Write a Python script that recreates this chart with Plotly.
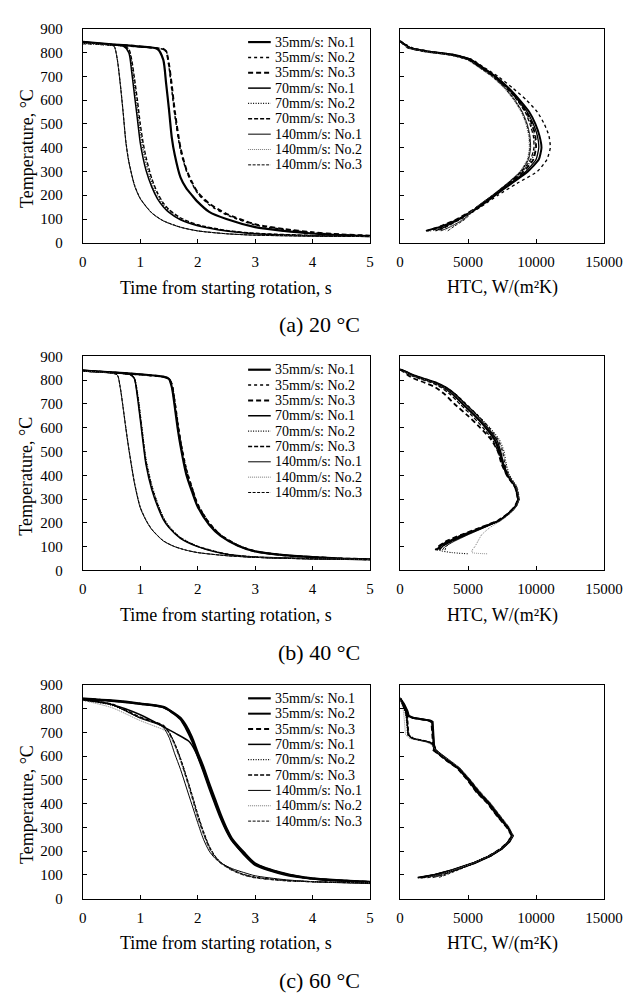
import plotly.graph_objects as go

W, H = 634, 993
FONT = "Liberation Serif, Times New Roman, serif"

# ---------------- (a) 20 °C : temperature vs time ----------------
t_a35 = [0, 0.5, 1.0, 1.3, 1.4, 1.45, 1.5, 1.55, 1.6, 1.7, 1.8, 1.9, 2.0, 2.2, 2.5, 3.0, 3.5, 4.0, 4.5, 5.0]
T_a35_1 = [845, 835, 825, 815, 770, 670, 560, 440, 370, 275, 230, 200, 172, 130, 100, 66, 50, 39, 32, 28]
T_a35_2 = [838, 832, 824, 818, 814, 808, 740, 640, 540, 390, 305, 250, 208, 160, 118, 75, 56, 42, 34, 29]
T_a35_3 = [843, 834, 826, 818, 815, 805, 750, 660, 555, 400, 310, 255, 212, 165, 122, 78, 58, 44, 35, 30]

t_a70 = [0, 0.4, 0.7, 0.8, 0.85, 0.9, 0.95, 1.0, 1.05, 1.1, 1.2, 1.3, 1.4, 1.5, 1.7, 2.0, 2.5, 3.0, 4.0, 5.0]
T_a70_1 = [845, 835, 828, 800, 720, 620, 520, 420, 355, 305, 235, 185, 152, 128, 97, 72, 50, 38, 30, 27]
T_a70_2 = [838, 832, 826, 810, 750, 660, 565, 465, 390, 335, 252, 198, 160, 134, 100, 74, 51, 39, 30, 27]
T_a70_3 = [843, 834, 828, 815, 770, 690, 600, 500, 420, 360, 270, 210, 168, 140, 105, 76, 52, 40, 31, 27]

t_a140 = [0, 0.3, 0.5, 0.55, 0.6, 0.65, 0.7, 0.75, 0.8, 0.9, 1.0, 1.2, 1.4, 1.7, 2.0, 2.5, 3.0, 4.0, 5.0]
T_a140_1 = [845, 838, 832, 825, 770, 670, 550, 420, 340, 240, 185, 125, 92, 65, 50, 38, 32, 28, 26]
T_a140_2 = [838, 834, 830, 822, 775, 680, 560, 430, 348, 245, 188, 127, 93, 66, 51, 38, 32, 28, 26]
T_a140_3 = [843, 836, 831, 824, 772, 675, 555, 425, 344, 243, 187, 126, 93, 66, 50, 38, 32, 28, 26]

# ---------------- (a) 20 °C : HTC vs temperature ----------------
Tq_a = [848, 835, 820, 805, 790, 770, 740, 700, 650, 600, 550, 500, 450, 400, 350, 300, 250, 200, 150, 100, 70, 50]
H_a35_1 = [0, 300, 700, 2000, 4000, 5200, 6000, 7000, 8000, 8800, 9500, 9950, 10250, 10400, 10200, 9400, 8200, 7000, 5800, 4300, 3100, 1900]
H_a35_2 = [0, 400, 900, 2200, 4100, 5300, 6100, 7200, 8300, 9300, 10100, 10600, 10950, 11050, 10800, 10100, 8600, 7200, 5900, 4500, 3300, 2200]
H_a35_3 = [0, 250, 600, 1800, 3800, 5100, 5900, 6900, 7900, 8700, 9300, 9700, 9950, 10000, 9800, 9100, 8000, 6900, 5700, 4200, 3000, 2000]
H_a70_1 = [0, 350, 800, 2100, 4000, 5200, 6000, 7000, 7950, 8700, 9350, 9800, 10100, 10200, 10000, 9250, 8100, 6950, 5750, 4400, 3400, 2600]
H_a70_2 = [0, 300, 750, 1900, 3900, 5150, 5950, 6950, 7900, 8650, 9250, 9650, 9900, 9950, 9700, 9000, 8000, 6900, 5700, 4300, 3200, 2300]
H_a70_3 = [0, 300, 700, 1900, 3900, 5100, 5900, 6900, 7850, 8600, 9200, 9550, 9800, 9850, 9600, 8950, 7950, 6850, 5650, 4400, 3500, 2800]
H_a140_1 = [0, 250, 650, 1800, 3700, 5000, 5800, 6800, 7750, 8450, 9000, 9350, 9550, 9600, 9450, 8900, 7900, 6800, 5600, 4700, 3800, 3000]
H_a140_2 = [0, 200, 600, 1700, 3600, 4900, 5700, 6700, 7650, 8350, 8900, 9250, 9450, 9500, 9350, 8800, 7850, 6750, 5600, 4600, 3700, 3300]
H_a140_3 = [0, 250, 650, 1750, 3650, 4950, 5750, 6750, 7700, 8400, 8950, 9300, 9500, 9550, 9400, 8850, 7900, 6800, 5650, 4800, 4000, 3500]

# ---------------- (b) 40 °C : temperature vs time ----------------
t_b35 = [0, 0.5, 1.0, 1.4, 1.5, 1.55, 1.6, 1.65, 1.7, 1.8, 1.9, 2.0, 2.2, 2.4, 2.7, 3.0, 3.5, 4.0, 4.5, 5.0]
T_b35_1 = [840, 833, 825, 815, 805, 770, 690, 600, 525, 405, 332, 268, 192, 145, 104, 80, 64, 56, 50, 47]
T_b35_2 = [838, 832, 824, 814, 806, 785, 715, 630, 550, 430, 350, 280, 200, 150, 106, 81, 65, 56, 50, 47]
T_b35_3 = [840, 833, 824, 814, 806, 780, 705, 615, 540, 420, 345, 275, 198, 148, 105, 80, 64, 56, 50, 47]

t_b70 = [0, 0.4, 0.8, 0.85, 0.9, 0.95, 1.0, 1.05, 1.1, 1.2, 1.3, 1.4, 1.5, 1.7, 2.0, 2.5, 3.0, 4.0, 5.0]
T_b70_1 = [842, 835, 826, 820, 805, 730, 635, 535, 445, 340, 270, 215, 180, 135, 100, 68, 56, 49, 46]
T_b70_2 = [838, 833, 825, 820, 808, 750, 660, 560, 468, 360, 285, 225, 186, 138, 102, 69, 56, 49, 46]
T_b70_3 = [840, 834, 826, 820, 806, 742, 648, 550, 457, 352, 278, 220, 183, 137, 101, 69, 56, 49, 46]

t_b140 = [0, 0.3, 0.5, 0.6, 0.65, 0.7, 0.75, 0.8, 0.9, 1.0, 1.1, 1.2, 1.4, 1.6, 1.8, 2.0, 2.5, 3.0, 4.0, 5.0]
T_b140_1 = [842, 836, 830, 822, 770, 685, 594, 510, 365, 263, 210, 172, 124, 100, 85, 75, 62, 55, 49, 46]
T_b140_2 = [838, 834, 829, 821, 775, 692, 602, 518, 372, 268, 213, 174, 125, 100, 85, 75, 62, 55, 49, 46]
T_b140_3 = [840, 835, 830, 822, 772, 688, 598, 514, 368, 266, 212, 173, 125, 100, 85, 75, 62, 55, 49, 46]

# ---------------- (b) 40 °C : HTC vs temperature ----------------
Tq_b = [845, 835, 820, 805, 790, 770, 740, 700, 650, 600, 550, 500, 450, 400, 350, 300, 270, 240, 210, 180, 150, 120, 100, 85]
H_b35_1 = [0, 400, 900, 1700, 2500, 3200, 3900, 4600, 5500, 6300, 6950, 7300, 7550, 7900, 8500, 8700, 8500, 8000, 7300, 6000, 4700, 3500, 2900, 2700]
H_b35_2 = [0, 450, 1000, 1800, 2600, 3350, 4100, 4850, 5750, 6550, 7200, 7550, 7700, 8000, 8550, 8750, 8550, 8050, 7300, 6000, 4600, 3400, 2900, 2800]
H_b35_3 = [0, 250, 600, 1100, 1800, 2600, 3300, 4000, 5000, 5900, 6700, 7200, 7450, 7850, 8450, 8650, 8450, 7950, 7200, 5900, 4500, 3300, 2800, 2600]
H_b70_1 = [0, 500, 1100, 1900, 2700, 3400, 4100, 4800, 5700, 6450, 7100, 7400, 7600, 7950, 8550, 8700, 8500, 8000, 7300, 6100, 4900, 3700, 3100, 2900]
H_b70_3 = [0, 350, 800, 1500, 2300, 3000, 3700, 4400, 5300, 6100, 6800, 7200, 7500, 7850, 8450, 8650, 8450, 7950, 7250, 6000, 4800, 3600, 3000, 2800]
H_b140_1 = [0, 450, 1000, 1800, 2600, 3300, 4000, 4700, 5600, 6400, 7000, 7350, 7600, 7950, 8500, 8700, 8500, 8000, 7350, 6200, 5000, 3900, 3300, 3100]
H_b140_3 = [0, 400, 900, 1700, 2500, 3200, 3900, 4600, 5500, 6300, 6950, 7300, 7550, 7900, 8450, 8650, 8450, 7950, 7300, 6100, 4900, 3800, 3400, 3300]
Tq_b_hook = [845, 835, 820, 805, 790, 770, 740, 700, 650, 600, 550, 500, 450, 400, 350, 300, 270, 240, 210, 180, 150, 120, 100, 85, 75, 70]
H_b70_2 = [0, 400, 950, 1750, 2550, 3300, 4050, 4800, 5750, 6600, 7300, 7650, 7800, 8050, 8600, 8750, 8550, 8050, 7350, 6100, 4800, 3700, 3100, 2900, 3800, 5000]
H_b140_2 = [0, 350, 850, 1650, 2450, 3200, 3950, 4700, 5650, 6500, 7200, 7550, 7750, 8000, 8550, 8750, 8550, 8100, 7450, 6600, 6000, 5700, 5500, 5300, 5300, 6400]

# ---------------- (c) 60 °C : temperature vs time ----------------
t_c35 = [0, 0.5, 1.0, 1.4, 1.55, 1.7, 1.8, 1.9, 2.0, 2.1, 2.2, 2.3, 2.4, 2.5, 2.6, 2.8, 3.0, 3.5, 4.0, 5.0]
T_c35_1 = [843, 835, 822, 808, 788, 762, 728, 680, 615, 555, 485, 420, 355, 298, 252, 196, 148, 106, 85, 70]
T_c35_2 = [840, 833, 820, 806, 785, 755, 715, 665, 600, 535, 465, 400, 338, 285, 243, 190, 145, 104, 84, 70]
T_c35_3 = [842, 834, 821, 807, 786, 758, 720, 672, 607, 545, 475, 410, 346, 291, 247, 193, 146, 105, 84, 70]

t_c70_1 = [0, 0.5, 1.0, 1.4, 1.6, 1.85, 1.95, 2.05, 2.15, 2.25, 2.35, 2.45, 2.6, 2.8, 3.0, 3.5, 4.0, 5.0]
T_c70_1 = [838, 818, 775, 725, 698, 662, 625, 570, 505, 440, 375, 315, 245, 185, 140, 100, 82, 68]

t_cmid = [0, 0.5, 1.0, 1.3, 1.4, 1.5, 1.6, 1.7, 1.8, 1.9, 2.0, 2.1, 2.2, 2.3, 2.4, 2.6, 2.8, 3.0, 3.5, 4.0, 5.0]
T_c70_2 = [836, 815, 762, 738, 728, 700, 652, 588, 515, 435, 352, 280, 220, 178, 152, 121, 101, 89, 76, 71, 66]
T_c70_3 = [838, 820, 765, 740, 730, 700, 650, 585, 510, 430, 345, 275, 215, 175, 150, 120, 100, 88, 76, 71, 66]
T_c140_1 = [840, 818, 760, 735, 722, 680, 610, 545, 470, 395, 320, 250, 200, 170, 150, 126, 110, 96, 80, 71, 63]
T_c140_2 = [835, 805, 750, 722, 712, 690, 645, 582, 508, 428, 343, 272, 213, 173, 148, 119, 100, 88, 76, 71, 66]
T_c140_3 = [838, 818, 763, 738, 728, 702, 655, 592, 518, 440, 357, 284, 222, 180, 153, 122, 102, 90, 77, 71, 66]

# ---------------- (c) 60 °C : HTC vs temperature ----------------
Tq_c35 = [845, 820, 790, 770, 762, 756, 750, 745, 700, 650, 625, 610, 580, 550, 500, 450, 400, 350, 300, 265, 240, 210, 180, 150, 120, 100, 88]
H_c35_1 = [0, 250, 500, 600, 900, 1600, 2200, 2350, 2400, 2450, 2500, 2850, 3500, 4250, 5000, 5650, 6500, 7150, 7900, 8300, 8050, 7500, 6650, 5500, 3900, 2600, 1500]
H_c35_2 = [0, 300, 550, 650, 1000, 1700, 2250, 2400, 2450, 2500, 2600, 2950, 3600, 4350, 5100, 5750, 6600, 7250, 7950, 8250, 8000, 7450, 6600, 5400, 3800, 2500, 1300]
H_c35_3 = [0, 200, 450, 550, 850, 1500, 2100, 2300, 2350, 2400, 2450, 2800, 3450, 4200, 4950, 5600, 6450, 7100, 7850, 8200, 7950, 7400, 6550, 5450, 4000, 2800, 1800]
Tq_cf = [845, 820, 790, 760, 720, 690, 675, 668, 660, 650, 640, 620, 600, 580, 550, 500, 450, 400, 350, 300, 265, 240, 210, 180, 150, 120, 100, 88]
H_c70_1 = [0, 200, 400, 500, 550, 600, 900, 1500, 2100, 2400, 2500, 2700, 3100, 3600, 4300, 5100, 5800, 6600, 7250, 7950, 8250, 8000, 7450, 6600, 5400, 3800, 2500, 1300]
H_c70_2 = [0, 150, 350, 450, 500, 550, 800, 1400, 2000, 2350, 2450, 2650, 3050, 3550, 4250, 5050, 5750, 6550, 7200, 7900, 8200, 7950, 7400, 6550, 5350, 3900, 2700, 1600]
H_c70_3 = [0, 250, 450, 550, 600, 650, 1000, 1600, 2200, 2450, 2550, 2750, 3150, 3650, 4350, 5150, 5850, 6650, 7300, 8000, 8300, 8050, 7500, 6700, 5500, 4100, 3000, 2000]
H_c140_1 = [0, 200, 400, 500, 520, 580, 850, 1450, 2050, 2400, 2500, 2700, 3100, 3600, 4300, 5100, 5800, 6550, 7200, 7900, 8200, 7950, 7400, 6600, 5500, 4200, 3200, 2400]
H_c140_2 = [0, 100, 250, 300, 350, 400, 700, 1300, 1900, 2300, 2450, 2700, 3150, 3700, 4400, 5200, 5900, 6700, 7350, 8050, 8300, 8000, 7450, 6600, 5450, 4000, 2900, 1900]
H_c140_3 = [0, 200, 400, 480, 530, 600, 900, 1500, 2100, 2400, 2500, 2700, 3100, 3600, 4300, 5100, 5800, 6600, 7250, 7950, 8250, 8000, 7450, 6650, 5550, 4300, 3400, 2800]

series_keys = ["35_1", "35_2", "35_3", "70_1", "70_2", "70_3", "140_1", "140_2", "140_3"]
series_names = ["35mm/s: No.1", "35mm/s: No.2", "35mm/s: No.3",
                "70mm/s: No.1", "70mm/s: No.2", "70mm/s: No.3",
                "140mm/s: No.1", "140mm/s: No.2", "140mm/s: No.3"]
captions = ["(a) 20 °C", "(b) 40 °C", "(c) 60 °C"]

temp_time = [
    {"35_1": (t_a35, T_a35_1), "35_2": (t_a35, T_a35_2), "35_3": (t_a35, T_a35_3),
     "70_1": (t_a70, T_a70_1), "70_2": (t_a70, T_a70_2), "70_3": (t_a70, T_a70_3),
     "140_1": (t_a140, T_a140_1), "140_2": (t_a140, T_a140_2), "140_3": (t_a140, T_a140_3)},
    {"35_1": (t_b35, T_b35_1), "35_2": (t_b35, T_b35_2), "35_3": (t_b35, T_b35_3),
     "70_1": (t_b70, T_b70_1), "70_2": (t_b70, T_b70_2), "70_3": (t_b70, T_b70_3),
     "140_1": (t_b140, T_b140_1), "140_2": (t_b140, T_b140_2), "140_3": (t_b140, T_b140_3)},
    {"35_1": (t_c35, T_c35_1), "35_2": (t_c35, T_c35_2), "35_3": (t_c35, T_c35_3),
     "70_1": (t_c70_1, T_c70_1), "70_2": (t_cmid, T_c70_2), "70_3": (t_cmid, T_c70_3),
     "140_1": (t_cmid, T_c140_1), "140_2": (t_cmid, T_c140_2), "140_3": (t_cmid, T_c140_3)},
]
htc = [
    {"35_1": (H_a35_1, Tq_a), "35_2": (H_a35_2, Tq_a), "35_3": (H_a35_3, Tq_a),
     "70_1": (H_a70_1, Tq_a), "70_2": (H_a70_2, Tq_a), "70_3": (H_a70_3, Tq_a),
     "140_1": (H_a140_1, Tq_a), "140_2": (H_a140_2, Tq_a), "140_3": (H_a140_3, Tq_a)},
    {"35_1": (H_b35_1, Tq_b), "35_2": (H_b35_2, Tq_b), "35_3": (H_b35_3, Tq_b),
     "70_1": (H_b70_1, Tq_b), "70_2": (H_b70_2, Tq_b_hook), "70_3": (H_b70_3, Tq_b),
     "140_1": (H_b140_1, Tq_b), "140_2": (H_b140_2, Tq_b_hook), "140_3": (H_b140_3, Tq_b)},
    {"35_1": (H_c35_1, Tq_c35), "35_2": (H_c35_2, Tq_c35), "35_3": (H_c35_3, Tq_c35),
     "70_1": (H_c70_1, Tq_cf), "70_2": (H_c70_2, Tq_cf), "70_3": (H_c70_3, Tq_cf),
     "140_1": (H_c140_1, Tq_cf), "140_2": (H_c140_2, Tq_cf), "140_3": (H_c140_3, Tq_cf)},
]

base_style = {
    "35_1": dict(width=2.2, dash="solid", color="#000"),
    "35_2": dict(width=1.5, dash="dot", color="#000"),
    "35_3": dict(width=2.0, dash="5px,3px", color="#000"),
    "70_1": dict(width=1.5, dash="solid", color="#000"),
    "70_2": dict(width=1.2, dash="1px,1.5px", color="#000"),
    "70_3": dict(width=1.4, dash="4px,2px", color="#000"),
    "140_1": dict(width=1.0, dash="solid", color="#000"),
    "140_2": dict(width=1.0, dash="1px,1px", color="#777"),
    "140_3": dict(width=1.0, dash="3px,1.5px", color="#000"),
}

def style_for(row, key):
    s = dict(base_style[key])
    if row == 2 and key == "35_2":
        s = dict(width=2.0, dash="solid", color="#000")
    return s

# ---------------- layout geometry (pixels) ----------------
LX = (73.5, 371.5)
RX = (402.7, 614.3)
ROWS = [(13.0, 230.5), (346.0, 563.5), (680.0, 897.0)]

def fx(p):
    return p / W

def fy(p):
    return 1 - p / H

fig = go.Figure()
layout = dict(
    width=W, height=H, margin=dict(l=0, r=0, t=0, b=0),
    paper_bgcolor="white", plot_bgcolor="white", showlegend=False,
    font=dict(family=FONT, color="#000", size=15),
)
annotations = []
shapes = []

axis_common = dict(showline=True, linecolor="#000", linewidth=1, mirror=True,
                   ticks="inside", ticklen=4, tickcolor="#000", tickwidth=1,
                   showgrid=False, zeroline=False,
                   tickfont=dict(family=FONT, size=15, color="#000"))

for r, (top, bot) in enumerate(ROWS):
    il = 2 * r + 1
    ir = 2 * r + 2
    xl = "x" if il == 1 else f"x{il}"
    yl = "y" if il == 1 else f"y{il}"
    xr = f"x{ir}"
    yr = f"y{ir}"
    ydom = [fy(bot), fy(top)]
    layout["xaxis" if il == 1 else f"xaxis{il}"] = dict(
        axis_common, domain=[fx(LX[0]), fx(LX[1])], anchor=yl,
        range=[0, 5], tick0=0, dtick=1, ticklabelstandoff=5)
    layout["yaxis" if il == 1 else f"yaxis{il}"] = dict(
        axis_common, domain=ydom, anchor=xl,
        range=[0, 900], tick0=0, dtick=100, ticklabelstandoff=16)
    layout[f"xaxis{ir}"] = dict(
        axis_common, domain=[fx(RX[0]), fx(RX[1])], anchor=yr,
        range=[0, 15000], tick0=0, dtick=5000, tickformat="d", ticklabelstandoff=5)
    layout[f"yaxis{ir}"] = dict(
        axis_common, domain=ydom, anchor=xr,
        range=[0, 900], tick0=0, dtick=100, showticklabels=False)

    for key, name in zip(series_keys, series_names):
        st = style_for(r, key)
        tx, ty = temp_time[r][key]
        fig.add_trace(go.Scatter(x=tx, y=ty, mode="lines", name=name,
                                 line=dict(color=st["color"], width=st["width"], dash=st["dash"],
                                           shape="spline", smoothing=0.7),
                                 xaxis=xl, yaxis=yl, hoverinfo="skip"))
        hx, hy = htc[r][key]
        fig.add_trace(go.Scatter(x=hx, y=hy, mode="lines", name=name,
                                 line=dict(color=st["color"], width=st["width"] * 0.9, dash=st["dash"],
                                           shape="linear" if r == 2 else "spline",
                                           smoothing=0.5),
                                 xaxis=xr, yaxis=yr, hoverinfo="skip"))

    # manual legend inside the left panel
    for i, (key, name) in enumerate(zip(series_keys, series_names)):
        st = style_for(r, key)
        yy = top + 13.5 + i * 15.6
        shapes.append(dict(type="line", xref="paper", yref="paper",
                           x0=fx(245), x1=fx(268.5), y0=fy(yy), y1=fy(yy),
                           line=dict(color=st["color"], width=st["width"], dash=st["dash"])))
        annotations.append(dict(text=name, xref="paper", yref="paper",
                                x=fx(270.5), y=fy(yy), xanchor="left", yanchor="middle",
                                showarrow=False, font=dict(family=FONT, size=14, color="#000")))

    # axis titles
    annotations.append(dict(text="Temperature, °C", xref="paper", yref="paper",
                            x=fx(15), y=fy((top + bot) / 2 + 13), textangle=-90,
                            xanchor="center", yanchor="middle", showarrow=False,
                            font=dict(family=FONT, size=18, color="#000")))
    annotations.append(dict(text="Time from starting rotation, s", xref="paper", yref="paper",
                            x=fx((LX[0] + LX[1]) / 2), y=fy(bot + 45.5),
                            xanchor="center", yanchor="middle", showarrow=False,
                            font=dict(family=FONT, size=18, color="#000")))
    annotations.append(dict(text="HTC, W/(m²K)", xref="paper", yref="paper",
                            x=fx((RX[0] + RX[1]) / 2), y=fy(bot + 45.5),
                            xanchor="center", yanchor="middle", showarrow=False,
                            font=dict(family=FONT, size=18, color="#000")))
    annotations.append(dict(text=captions[r], xref="paper", yref="paper",
                            x=fx(319), y=fy(bot + 83),
                            xanchor="center", yanchor="middle", showarrow=False,
                            font=dict(family=FONT, size=22, color="#000")))

layout["annotations"] = annotations
layout["shapes"] = shapes
fig.update_layout(**layout)
fig.write_html("out.html")
